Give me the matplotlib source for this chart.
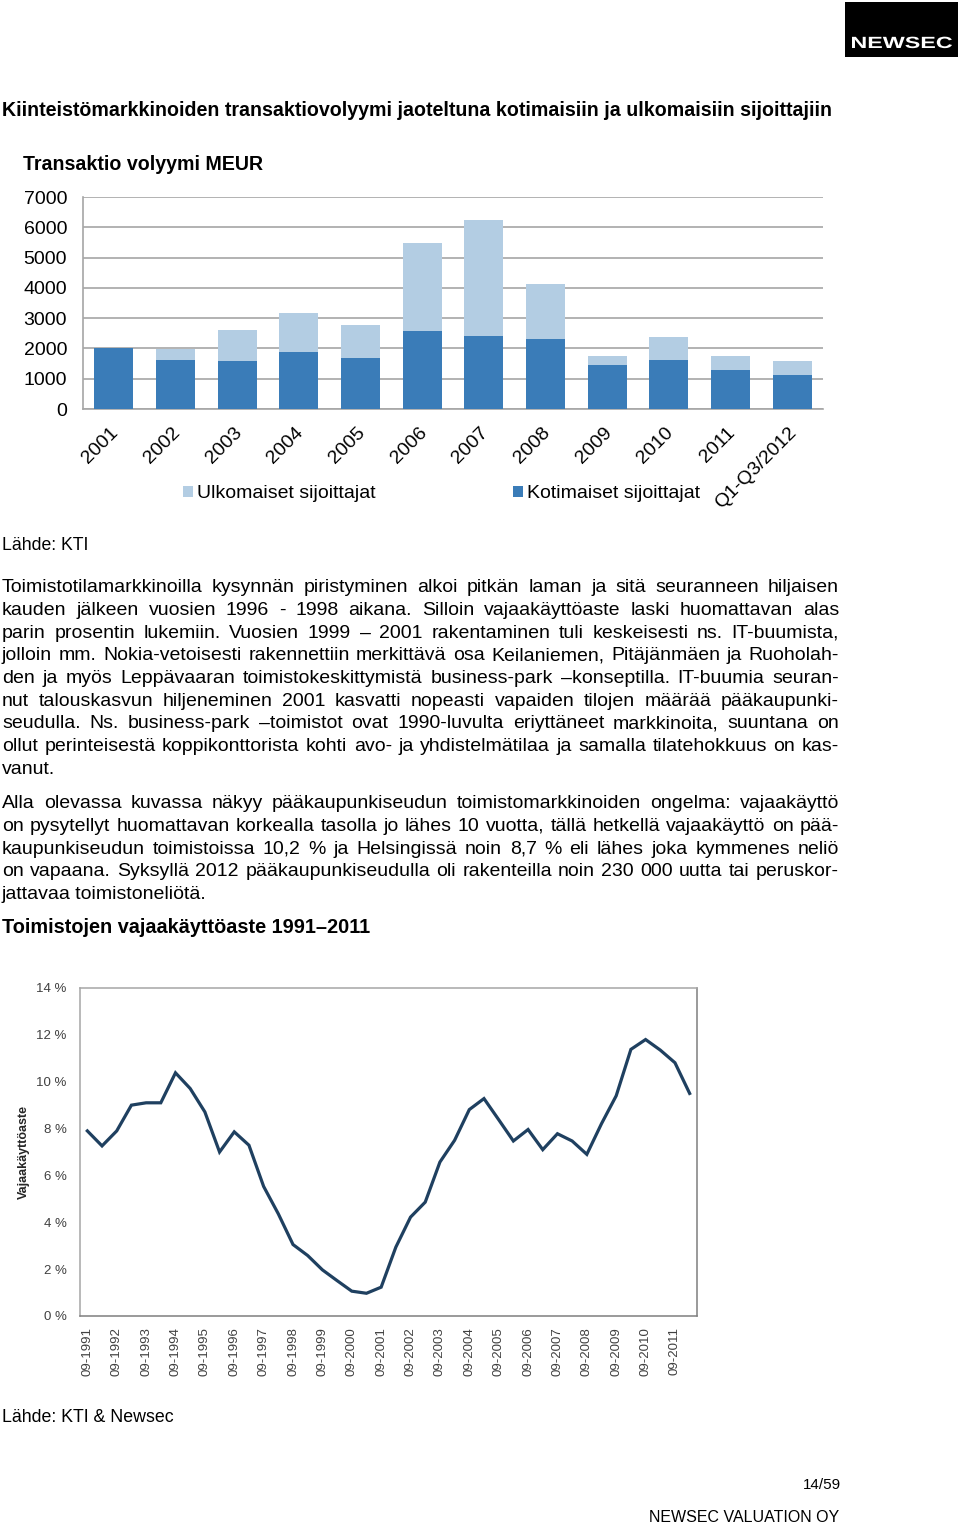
import matplotlib
matplotlib.use('Agg')
import matplotlib.pyplot as plt
import matplotlib.transforms as mtransforms
from matplotlib.patches import Rectangle, PathPatch
from matplotlib.textpath import TextPath
from matplotlib.font_manager import FontProperties
import numpy as np

plt.rcParams['font.family'] = ['Liberation Sans', 'DejaVu Sans']

# ---------------- data ----------------
bar_categories = ['2001', '2002', '2003', '2004', '2005', '2006', '2007',
                  '2008', '2009', '2010', '2011', 'Q1-Q3/2012']
domestic = [2000, 1630, 1590, 1880, 1700, 2560, 2410, 2310, 1450, 1630, 1300, 1110]
foreign = [0, 350, 1010, 1290, 1070, 2920, 3830, 1820, 300, 750, 450, 480]
bar_yticks = [0, 1000, 2000, 3000, 4000, 5000, 6000, 7000]

vacancy = [7.90, 7.26, 7.90, 9.00, 9.10, 9.10, 10.38, 9.71, 8.71, 7.00,
           7.86, 7.29, 5.53, 4.36, 3.05, 2.58, 1.97, 1.51, 1.06, 0.97,
           1.23, 2.94, 4.22, 4.86, 6.57, 7.50, 8.81, 9.28, 8.38, 7.47,
           7.96, 7.10, 7.78, 7.47, 6.90, 8.21, 9.40, 11.38, 11.80, 11.35,
           10.81, 9.50]
vacancy_ticklabels = ['09-1991', '09-1992', '09-1993', '09-1994', '09-1995',
                      '09-1996', '09-1997', '09-1998', '09-1999', '09-2000',
                      '09-2001', '09-2002', '09-2003', '09-2004', '09-2005',
                      '09-2006', '09-2007', '09-2008', '09-2009', '09-2010',
                      '09-2011']
vacancy_yticks = [0, 2, 4, 6, 8, 10, 12, 14]

title_main = 'Kiinteistömarkkinoiden transaktiovolyymi jaoteltuna kotimaisiin ja ulkomaisiin sijoittajiin'
bar_title = 'Transaktio volyymi MEUR'
para1 = [
    'Toimistotilamarkkinoilla kysynnän piristyminen alkoi pitkän laman ja sitä seuranneen hiljaisen',
    'kauden jälkeen vuosien 1996 - 1998 aikana. Silloin vajaakäyttöaste laski huomattavan alas',
    'parin prosentin lukemiin. Vuosien 1999 – 2001 rakentaminen tuli keskeisesti ns. IT-buumista,',
    'jolloin mm. Nokia-vetoisesti rakennettiin merkittävä osa Keilaniemen, Pitäjänmäen ja Ruoholah-',
    'den ja myös Leppävaaran toimistokeskittymistä business-park –konseptilla. IT-buumia seuran-',
    'nut talouskasvun hiljeneminen 2001 kasvatti nopeasti vapaiden tilojen määrää pääkaupunki-',
    'seudulla. Ns. business-park –toimistot ovat 1990-luvulta eriyttäneet markkinoita, suuntana on',
    'ollut perinteisestä koppikonttorista kohti avo- ja yhdistelmätilaa ja samalla tilatehokkuus on kas-',
    'vanut.',
]
para2 = [
    'Alla olevassa kuvassa näkyy pääkaupunkiseudun toimistomarkkinoiden ongelma: vajaakäyttö',
    'on pysytellyt huomattavan korkealla tasolla jo lähes 10 vuotta, tällä hetkellä vajaakäyttö on pää-',
    'kaupunkiseudun toimistoissa 10,2 % ja Helsingissä noin 8,7 % eli lähes joka kymmenes neliö',
    'on vapaana. Syksyllä 2012 pääkaupunkiseudulla oli rakenteilla noin 230 000 uutta tai peruskor-',
    'jattavaa toimistoneliötä.',
]

# ---------------- figure ----------------
W, H = 960, 1525
fig = plt.figure(figsize=(W / 100, H / 100), dpi=100)
renderer = fig.canvas.get_renderer()


def fx(px):
    return px / W


def fy(py):
    return 1 - py / H


def twidth(t):
    return t.get_window_extent(renderer).width


def fit_text(x0, x1, base, s, size0=12, **kw):
    t = fig.text(fx(x0), fy(base), s, fontsize=size0, va='baseline', ha='left', **kw)
    w = twidth(t)
    t.set_fontsize(size0 * (x1 - x0) / w)
    return t


def justify(lines, first_base, step, x0, x1, size):
    for i, line in enumerate(lines):
        base = first_base + i * step
        if i == len(lines) - 1:
            fig.text(fx(x0), fy(base), line, fontsize=size, va='baseline', ha='left')
            continue
        words = line.split()
        ts = [fig.text(0, fy(base), w, fontsize=size, va='baseline', ha='left') for w in words]
        ws = [twidth(t) for t in ts]
        gap = (x1 - x0 - sum(ws)) / (len(words) - 1)
        x = x0
        for t, w in zip(ts, ws):
            t.set_x(fx(x))
            x += w + gap


# ---------------- logo ----------------
fig.add_artist(Rectangle((fx(845), fy(57)), fx(958) - fx(845), fy(2) - fy(57),
                         transform=fig.transFigure, facecolor='black', edgecolor='none'))
tp = TextPath((0, 0), 'NEWSEC', size=1, prop=FontProperties(family='Liberation Sans', weight='bold'))
bb = tp.get_extents()
sx = 100 / bb.width
sy = 11.5 / bb.height
tr = mtransforms.Affine2D().translate(-bb.x0, 0).scale(sx, sy).translate(852, H - 48)
fig.add_artist(PathPatch(tp, transform=tr, facecolor='white', edgecolor='none'))

# ---------------- texts ----------------
fit_text(2, 826, 116, title_main, fontweight='bold')
fit_text(23, 261, 170, bar_title, fontweight='bold')
fit_text(2, 88, 550, 'Lähde: KTI')
body_size = 14.0
justify(para1, 592, 22.75, 2, 839, body_size)
justify(para2, 808, 22.75, 2, 839, body_size)
fit_text(2, 367, 933, 'Toimistojen vajaakäyttöaste 1991–2011', fontweight='bold')
fit_text(2, 173, 1422, 'Lähde: KTI & Newsec')
fit_text(803, 841, 1489, '14/59')
fit_text(649, 840, 1522, 'NEWSEC VALUATION OY')

# ---------------- bar chart ----------------
ax1 = fig.add_axes([fx(83), fy(409), (823 - 83) / W, (409 - 197) / H])
xb = np.arange(len(bar_categories))
dark = '#3a7cb8'
light = '#b3cde3'
b_dom = ax1.bar(xb, domestic, width=0.63, color=dark, zorder=3)
b_for = ax1.bar(xb, foreign, bottom=domestic, width=0.63, color=light, zorder=3)
ax1.set_xlim(-0.5, len(bar_categories) - 0.5)
ax1.set_ylim(0, 7000)
ax1.set_yticks(bar_yticks)
ax1.set_yticklabels([str(v) for v in bar_yticks])
ax1.yaxis.grid(True, color='#a6a6a6', lw=1.2, zorder=0)
ax1.set_axisbelow(True)
for s in ['top', 'right']:
    ax1.spines[s].set_visible(False)
for s in ['left', 'bottom']:
    ax1.spines[s].set_color('#a6a6a6')
    ax1.spines[s].set_linewidth(1.2)
ax1.tick_params(axis='both', length=0, labelsize=14, colors='black')
ax1.tick_params(axis='y', pad=11.5)
ax1.tick_params(axis='x', pad=11)
ax1.set_xticks(xb)
ax1.set_xticklabels(bar_categories, rotation=45, ha='right', va='top', rotation_mode='anchor')
off = mtransforms.ScaledTranslation(-0.04, 0, fig.dpi_scale_trans)
for lab in ax1.get_xticklabels():
    lab.set_transform(lab.get_transform() + off)

leg_kw = dict(loc='center left', frameon=False, fontsize=14, handlelength=0.52,
              handleheight=0.52, handletextpad=0.2, borderpad=0, borderaxespad=0)
fig.legend([b_for], ['Ulkomaiset sijoittajat'], bbox_to_anchor=(fx(183), fy(494)), **leg_kw)
fig.legend([b_dom], ['Kotimaiset sijoittajat'], bbox_to_anchor=(fx(513), fy(494)), **leg_kw)

# ---------------- line chart ----------------
ax2 = fig.add_axes([fx(80), fy(1316), (697 - 80) / W, (1316 - 988) / H])
xl = np.arange(len(vacancy))
ax2.plot(xl, vacancy, color='#1f4060', lw=2.3, solid_joinstyle='miter')
ax2.set_xlim(-0.5, len(vacancy) - 0.5)
ax2.set_ylim(0, 14)
ax2.set_yticks(vacancy_yticks)
ax2.set_yticklabels([f'{v} %' for v in vacancy_yticks])
ax2.set_xticks(xl[::2])
ax2.set_xticklabels(vacancy_ticklabels, rotation=90, ha='center', va='top')
ax2.tick_params(axis='both', length=0, labelsize=9.5, colors='#404040')
ax2.tick_params(axis='y', pad=9.5)
ax2.tick_params(axis='x', pad=8)
for s in ['top', 'left']:
    ax2.spines[s].set_color('#a6a6a6')
for s in ['right', 'bottom']:
    ax2.spines[s].set_color('#7f7f7f')
for s in ax2.spines.values():
    s.set_linewidth(1.1)
ax2.set_ylabel('Vajaakäyttöaste', fontsize=9, fontweight='bold', color='#262626')
ax2.yaxis.set_label_coords((30 - 80) / 617, 0.5)

fig.savefig('out.png', dpi=100, facecolor='white')
